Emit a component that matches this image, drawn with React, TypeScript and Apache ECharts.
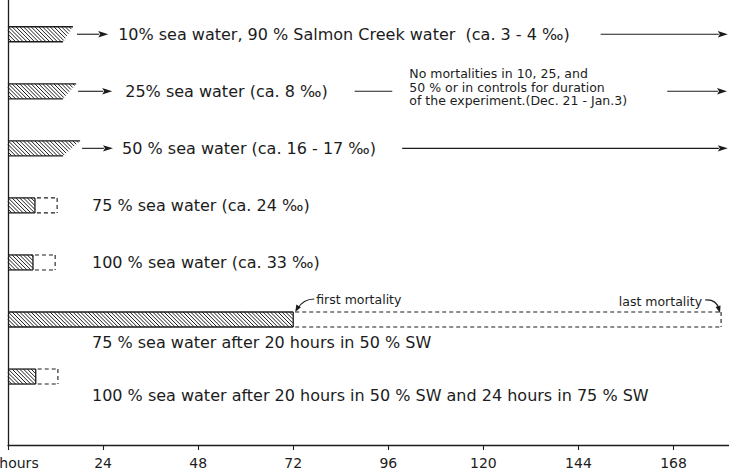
import React, { useEffect, useRef } from 'react';
import * as echarts from 'echarts';

// ---- data ----
const rowIndex = [0, 1, 2, 3, 4, 5, 6];
const captions = [
  '10% sea water, 90 % Salmon Creek water  (ca. 3 - 4 ‰)',
  '25% sea water (ca. 8 ‰)',
  '50 % sea water (ca. 16 - 17 ‰)',
  '75 % sea water (ca. 24 ‰)',
  '100 % sea water (ca. 33 ‰)',
  '75 % sea water after 20 hours in 50 % SW',
  '100 % sea water after 20 hours in 50 % SW and 24 hours in 75 % SW',
];
// hatched bar: hours to end of hatched part (top edge)
const hatchedHours = [16.4, 17.2, 18.2, 6.8, 6.3, 72, 7.0];
// tapered (continuing) bars: hours at bottom edge of the taper
const taperHours: (number | null)[] = [13.9, 13.9, 13.9, null, null, null, null];
// dashed part: hours to last mortality
const lastMortalityHours: (number | null)[] = [null, null, null, 12.4, 11.9, 180, 12.6];
const hourTicks = [0, 24, 48, 72, 96, 120, 144, 168];
const axisMaxHours = 182;
const noteText =
  'No mortalities in 10, 25, and\n50 % or in controls for duration\nof the experiment.(Dec. 21 - Jan.3)';

// ---- annotation layout (in hours along the axis / row units) ----
const captionStartHours = [27.8, 29.6, 28.8, 21.2, 21.2, 21.2, 21.2];
const captionRowShift = [0, 0, 0, 0, 0, 0.4, 0.34];
const arrowSpans: number[][][] = [
  [[17.4, 25.3], [149.6, 181.7]],
  [[17.7, 26.3], [166.4, 181.5]],
  [[18.7, 26.5], [99.5, 181.7]],
  [], [], [], [],
];
const plainDashes: number[][][] = [[], [[87.5, 97]], [], [], [], [], []];
const noteStartHours = 101.3;

const INK = '#1c1c1c';
const FONT = '"DejaVu Sans", sans-serif';

function arrowParts(x1: number, y: number, x2: number) {
  const L = 10, W = 3.2;
  return [
    { type: 'line', shape: { x1, y1: y, x2: x2 - L + 1, y2: y }, style: { stroke: INK, lineWidth: 1.1 } },
    { type: 'polygon', shape: { points: [[x2, y], [x2 - L, y - W], [x2 - L + 2, y], [x2 - L, y + W]] }, style: { fill: INK } },
  ];
}

function headAt(x: number, y: number, fx: number, fy: number) {
  const dx = x - fx, dy = y - fy;
  const len = Math.sqrt(dx * dx + dy * dy) || 1;
  const ux = dx / len, uy = dy / len;
  const L = 7, W = 2.6;
  const bx = x - ux * L, by = y - uy * L;
  return {
    type: 'polygon',
    shape: { points: [[x, y], [bx - uy * W, by + ux * W], [bx + uy * W, by - ux * W]] },
    style: { fill: INK },
  };
}

const barRender = (params: any, api: any) => {
  const i = params.dataIndex;
  const r = rowIndex[i];
  const p0 = api.coord([0, r]);
  const x0 = p0[0], yc = p0[1];
  const xTop = api.coord([hatchedHours[i], r])[0];
  const tp = taperHours[i];
  const xBot = tp != null ? api.coord([tp, r])[0] : xTop;
  const h = 15;
  const y1 = yc - h / 2, y2 = yc + h / 2;
  const children: any[] = [];
  const k = (xTop - xBot) / h;
  for (let c = x0 - h; c < xTop; c += 3.8) {
    const tMin = Math.max(0, x0 - c);
    const tMax = Math.min(h, (xTop - c) / (1 + k));
    if (tMax > tMin) {
      children.push({
        type: 'line',
        shape: { x1: c + tMin, y1: y1 + tMin, x2: c + tMax, y2: y1 + tMax },
        style: { stroke: INK, lineWidth: 1 },
      });
    }
  }
  children.push({ type: 'line', shape: { x1: x0, y1, x2: xTop, y2: y1 }, style: { stroke: INK, lineWidth: 1.3 } });
  children.push({ type: 'line', shape: { x1: x0, y1: y2, x2: xBot, y2 }, style: { stroke: INK, lineWidth: 1.3 } });
  if (tp == null) {
    children.push({ type: 'line', shape: { x1: xTop, y1, x2: xTop, y2 }, style: { stroke: INK, lineWidth: 1.3 } });
  }
  const last = lastMortalityHours[i];
  if (last != null) {
    const xD = api.coord([last, r])[0];
    const ds = { stroke: INK, lineWidth: 1.1, lineDash: [4, 3] };
    children.push({ type: 'line', shape: { x1: xTop + 2, y1, x2: xD, y2: y1 }, style: ds });
    children.push({ type: 'line', shape: { x1: xTop + 2, y1: y2, x2: xD, y2 }, style: ds });
    children.push({ type: 'line', shape: { x1: xD, y1, x2: xD, y2 }, style: ds });
  }
  return { type: 'group', children };
};

const noteRender = (params: any, api: any) => {
  const i = params.dataIndex;
  const r = rowIndex[i];
  const yc = api.coord([0, r])[1];
  const children: any[] = [];
  const cp = api.coord([captionStartHours[i], r + captionRowShift[i]]);
  children.push({
    type: 'text',
    x: cp[0],
    y: cp[1],
    style: { text: captions[i], fill: INK, font: `16px ${FONT}`, align: 'left', verticalAlign: 'middle' },
  });
  for (const [a, b] of arrowSpans[i]) {
    const xa = api.coord([a, r])[0], xb = api.coord([b, r])[0];
    children.push(...arrowParts(xa, yc, xb));
  }
  for (const [a, b] of plainDashes[i]) {
    const xa = api.coord([a, r])[0], xb = api.coord([b, r])[0];
    children.push({ type: 'line', shape: { x1: xa, y1: yc, x2: xb, y2: yc }, style: { stroke: INK, lineWidth: 1.1 } });
  }
  if (i === 1) {
    const np = api.coord([noteStartHours, r]);
    children.push({
      type: 'text',
      x: np[0],
      y: np[1] - 4,
      style: { text: noteText, fill: INK, font: `12.5px ${FONT}`, lineHeight: 13.5, align: 'left', verticalAlign: 'middle' },
    });
  }
  if (lastMortalityHours[i] != null && hatchedHours[i] > 24) {
    const xf = api.coord([hatchedHours[i], r])[0];
    const xl = api.coord([lastMortalityHours[i] as number, r])[0];
    const top = yc - 7.5;
    // first mortality
    children.push({
      type: 'text', x: xf + 23, y: top - 12,
      style: { text: 'first mortality', fill: INK, font: `12.5px ${FONT}`, align: 'left', verticalAlign: 'middle' },
    });
    children.push({
      type: 'bezierCurve',
      shape: { x1: xf + 21, y1: top - 13, cpx1: xf + 10, cpy1: top - 13, x2: xf + 4, y2: top - 3 },
      style: { stroke: INK, lineWidth: 1.1, fill: 'none' },
    });
    children.push(headAt(xf + 2, top, xf + 7, top - 9));
    // last mortality
    children.push({
      type: 'text', x: xl - 19, y: top - 10,
      style: { text: 'last mortality', fill: INK, font: `12.5px ${FONT}`, align: 'right', verticalAlign: 'middle' },
    });
    children.push({
      type: 'bezierCurve',
      shape: { x1: xl - 16, y1: top - 12, cpx1: xl - 5, cpy1: top - 13, x2: xl - 2, y2: top - 3 },
      style: { stroke: INK, lineWidth: 1.1, fill: 'none' },
    });
    children.push(headAt(xl - 1, top + 1, xl - 4, top - 9));
  }
  return { type: 'group', children };
};

export default function App() {
  const ref = useRef<HTMLDivElement>(null);
  useEffect(() => {
    if (!ref.current) return;
    const chart = echarts.init(ref.current, undefined, { renderer: 'svg' });
    const rowData = rowIndex.map((r) => [0, r]);
    chart.setOption({
      animation: false,
      backgroundColor: '#ffffff',
      grid: { left: 8, right: 0, top: 0, bottom: 28, containLabel: false, outerBoundsMode: 'none' },
      xAxis: {
        type: 'value',
        min: 0,
        max: axisMaxHours,
        interval: 24,
        axisLine: { show: true, onZero: false, lineStyle: { color: INK, width: 1.3 } },
        axisTick: { show: true, length: 5, lineStyle: { color: INK, width: 1.1 } },
        splitLine: { show: false },
        axisLabel: {
          showMaxLabel: false,
          margin: 11,
          color: INK,
          fontSize: 14,
          fontFamily: FONT,
          formatter: (v: number) =>
            v === 0 ? '{h|hours}' : hourTicks.includes(v) ? String(v) : '',
          rich: { h: { fontSize: 14, fontFamily: FONT, color: INK, padding: [0, 0, 0, 22] } },
        },
      },
      yAxis: {
        type: 'value',
        inverse: true,
        min: -0.6,
        max: 7.2,
        axisLine: { show: true, onZero: false, lineStyle: { color: INK, width: 1.3 } },
        axisTick: { show: false },
        axisLabel: { show: false },
        splitLine: { show: false },
      },
      series: [
        { type: 'custom', name: 'bars', data: rowData, encode: { x: 0, y: 1 }, renderItem: barRender, clip: false },
        { type: 'custom', name: 'notes', data: rowData, encode: { x: 0, y: 1 }, renderItem: noteRender, clip: false },
      ],
    });
    return () => chart.dispose();
  }, []);
  return (
    <div
      ref={ref}
      style={{ position: 'absolute', left: 0, top: 0, width: 729, height: 473, background: '#fff' }}
    />
  );
}
